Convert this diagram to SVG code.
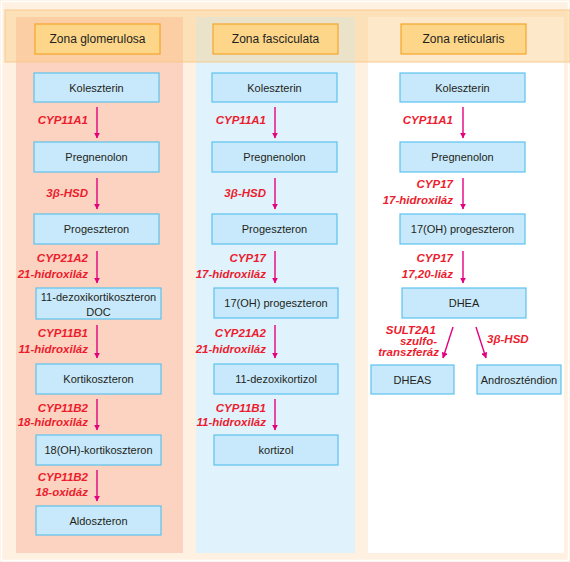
<svg xmlns="http://www.w3.org/2000/svg" width="570" height="562" viewBox="0 0 570 562">
<style>
.bx{fill:#c8e9fb;stroke:#5cc2ee;stroke-width:1.2}
.hd{fill:#fdd68a;stroke:#f5a52a;stroke-width:1.2}
.t{font-family:"Liberation Sans",Arial,sans-serif;font-size:11px;fill:#231f20;text-anchor:middle}
.h{font-family:"Liberation Sans",Arial,sans-serif;font-size:12px;fill:#231f20;text-anchor:middle}
.e{font-family:"Liberation Sans",Arial,sans-serif;font-size:11.5px;font-weight:bold;font-style:italic;fill:#ec1c2e;text-anchor:end}
.a{stroke:#e5007e;stroke-width:1.4;fill:none;marker-end:url(#ah)}
</style>
<defs>
<marker id="ah" viewBox="0 0 10 10" refX="9" refY="5" markerWidth="6" markerHeight="6" markerUnits="userSpaceOnUse" orient="auto">
<path d="M0,0 L10,5 L0,10 Z" fill="#e5007e"/>
</marker>
</defs>
<rect x="0" y="0" width="570" height="562" fill="#fef1e2"/>
<rect x="1.5" y="1.5" width="567" height="559" fill="none" stroke="#ffffff" stroke-width="1.5"/>
<rect x="16" y="17" width="167" height="536" fill="#fcd3c0"/>
<rect x="196" y="17" width="159" height="536" fill="#e0f3fd"/>
<rect x="368" y="17" width="196" height="536" fill="#ffffff"/>
<rect x="5" y="10" width="565" height="52" fill="#fbc77a" fill-opacity="0.4" stroke="#f8c98c" stroke-width="1"/>

<g id="h1"><rect class="hd" x="35" y="24" width="125" height="30"/><text class="h" x="97.5" y="43">Zona glomerulosa</text></g>
<g id="h2"><rect class="hd" x="213" y="24" width="125" height="30"/><text class="h" x="275.5" y="43">Zona fasciculata</text></g>
<g id="h3"><rect class="hd" x="401" y="24" width="125" height="30"/><text class="h" x="463.5" y="43">Zona reticularis</text></g>

<g id="c1n1"><rect class="bx" x="34" y="73" width="125" height="29"/><text class="t" x="96.5" y="91.5">Koleszterin</text></g>
<g id="c1n2"><rect class="bx" x="34" y="142" width="125" height="30"/><text class="t" x="96.5" y="161">Pregnenolon</text></g>
<g id="c1n3"><rect class="bx" x="34" y="214" width="125" height="30"/><text class="t" x="96.5" y="233">Progeszteron</text></g>
<g id="c1n4"><rect class="bx" x="36" y="288" width="125" height="31"/><text class="t" x="98.5" y="301">11-dezoxikortikoszteron</text><text class="t" x="98.5" y="315.5">DOC</text></g>
<g id="c1n5"><rect class="bx" x="36" y="364" width="125" height="30"/><text class="t" x="98.5" y="383">Kortikoszteron</text></g>
<g id="c1n6"><rect class="bx" x="36" y="435" width="125" height="30"/><text class="t" x="98.5" y="454">18(OH)-kortikoszteron</text></g>
<g id="c1n7"><rect class="bx" x="36" y="506" width="125" height="29"/><text class="t" x="98.5" y="524.5">Aldoszteron</text></g>

<g id="c2n1"><rect class="bx" x="212" y="73" width="125" height="29"/><text class="t" x="274.5" y="91.5">Koleszterin</text></g>
<g id="c2n2"><rect class="bx" x="212" y="142" width="125" height="30"/><text class="t" x="274.5" y="161">Pregnenolon</text></g>
<g id="c2n3"><rect class="bx" x="212" y="214" width="125" height="30"/><text class="t" x="274.5" y="233">Progeszteron</text></g>
<g id="c2n4"><rect class="bx" x="214" y="288" width="124" height="30"/><text class="t" x="276" y="307">17(OH) progeszteron</text></g>
<g id="c2n5"><rect class="bx" x="214" y="364" width="124" height="30"/><text class="t" x="276" y="383">11-dezoxikortizol</text></g>
<g id="c2n6"><rect class="bx" x="214" y="435" width="124" height="30"/><text class="t" x="276" y="454">kortizol</text></g>

<g id="c3n1"><rect class="bx" x="400" y="73" width="125" height="29"/><text class="t" x="462.5" y="91.5">Koleszterin</text></g>
<g id="c3n2"><rect class="bx" x="400" y="142" width="125" height="30"/><text class="t" x="462.5" y="161">Pregnenolon</text></g>
<g id="c3n3"><rect class="bx" x="400" y="214" width="125" height="30"/><text class="t" x="462.5" y="233">17(OH) progeszteron</text></g>
<g id="c3n4"><rect class="bx" x="402" y="288" width="124" height="30"/><text class="t" x="464" y="307">DHEA</text></g>
<g id="c3n5"><rect class="bx" x="371" y="365" width="83" height="29"/><text class="t" x="412.5" y="383.5">DHEAS</text></g>
<g id="c3n6"><rect class="bx" x="477" y="365" width="84" height="29"/><text class="t" x="519" y="383.5">Androszténdion</text></g>

<g id="connectors">
<line class="a" x1="97" y1="107" x2="97" y2="138"/>
<line class="a" x1="97" y1="178" x2="97" y2="209"/>
<line class="a" x1="97" y1="251" x2="97" y2="283"/>
<line class="a" x1="97" y1="325" x2="97" y2="358"/>
<line class="a" x1="97" y1="399" x2="97" y2="430"/>
<line class="a" x1="97" y1="470" x2="97" y2="501"/>

<line class="a" x1="275" y1="107" x2="275" y2="138"/>
<line class="a" x1="275" y1="178" x2="275" y2="209"/>
<line class="a" x1="275" y1="251" x2="275" y2="283"/>
<line class="a" x1="275" y1="325" x2="275" y2="358"/>
<line class="a" x1="275" y1="399" x2="275" y2="430"/>

<line class="a" x1="463" y1="107" x2="463" y2="138"/>
<line class="a" x1="463" y1="178" x2="463" y2="209"/>
<line class="a" x1="463" y1="251" x2="463" y2="283"/>
<line class="a" x1="453" y1="327" x2="443" y2="358"/>
<line class="a" x1="476" y1="327" x2="486" y2="358"/>
</g>

<g id="labels">
<text class="e" x="88" y="123.5">CYP11A1</text>
<text class="e" x="88" y="197">3β-HSD</text>
<text class="e" x="88" y="262">CYP21A2</text>
<text class="e" x="88" y="278">21-hidroxiláz</text>
<text class="e" x="88" y="337">CYP11B1</text>
<text class="e" x="88" y="353">11-hidroxiláz</text>
<text class="e" x="88" y="412">CYP11B2</text>
<text class="e" x="88" y="426">18-hidroxiláz</text>
<text class="e" x="88" y="481">CYP11B2</text>
<text class="e" x="88" y="496">18-oxidáz</text>

<text class="e" x="266" y="123.5">CYP11A1</text>
<text class="e" x="266" y="197">3β-HSD</text>
<text class="e" x="266" y="262">CYP17</text>
<text class="e" x="266" y="278">17-hidroxiláz</text>
<text class="e" x="266" y="337">CYP21A2</text>
<text class="e" x="266" y="353">21-hidroxiláz</text>
<text class="e" x="266" y="412">CYP11B1</text>
<text class="e" x="266" y="426">11-hidroxiláz</text>

<text class="e" x="453" y="123.5">CYP11A1</text>
<text class="e" x="453" y="188">CYP17</text>
<text class="e" x="453" y="204">17-hidroxiláz</text>
<text class="e" x="453" y="262">CYP17</text>
<text class="e" x="453" y="278">17,20-liáz</text>
<text class="e" x="436" y="334">SULT2A1</text>
<text class="e" x="437" y="345">szulfo-</text>
<text class="e" x="439" y="356">transzferáz</text>
<text class="e" x="487" y="343" style="text-anchor:start">3β-HSD</text>
</g>
</svg>
